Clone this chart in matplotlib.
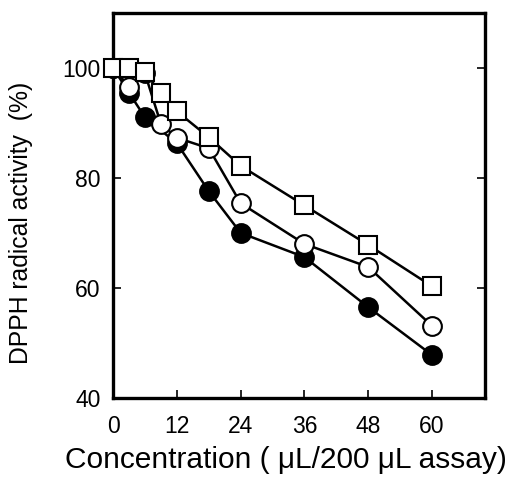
import matplotlib
matplotlib.use('Agg')
import matplotlib.pyplot as plt

plt.rcParams['font.family'] = ['Liberation Sans', 'DejaVu Sans']

# Data
conc_filled = [0, 3, 6, 12, 18, 24, 36, 48, 60]
act_filled = [100, 95.5, 91.0, 86.3, 77.6, 70.0, 65.6, 56.5, 47.8]

conc_open = [0, 3, 6, 9, 12, 18, 24, 36, 48, 60]
act_open = [100, 96.6, 99.0, 89.8, 87.3, 85.4, 75.4, 68.0, 63.8, 53.1]

conc_square = [0, 3, 6, 9, 12, 18, 24, 36, 48, 60]
act_square = [100, 100, 99.2, 95.4, 92.1, 87.4, 82.2, 75.0, 67.8, 60.3]

xticks = [0, 12, 24, 36, 48, 60]
yticks = [40, 60, 80, 100]

fig = plt.figure(figsize=(5.14, 4.8), dpi=100)
ax = fig.add_axes([0.22, 0.171, 0.724, 0.802])

ax.plot(conc_filled, act_filled, '-o', color='black', lw=1.8,
        ms=13.5, mfc='black', mec='black', mew=1.5, zorder=3, clip_on=False)
ax.plot(conc_open, act_open, '-o', color='black', lw=1.8,
        ms=13.5, mfc='white', mec='black', mew=1.5, zorder=4, clip_on=False)
ax.plot(conc_square, act_square, '-s', color='black', lw=1.8,
        ms=12.5, mfc='white', mec='black', mew=1.5, zorder=5, clip_on=False)

ax.set_xlim(0, 70)
ax.set_ylim(40, 110)
ax.set_xticks(xticks)
ax.set_yticks(yticks)
ax.tick_params(direction='in', length=6, width=1.2, labelsize=16.5)
ax.tick_params(axis='x', pad=12)
ax.tick_params(axis='y', pad=9, right=True)
for s in ax.spines.values():
    s.set_linewidth(2.4)

ax.set_xlabel('Concentration ( \u03bcL/200 \u03bcL assay)', fontsize=21.5)
ax.xaxis.set_label_coords(0.465, -0.125)
ax.set_ylabel('DPPH radical activity  (%)', fontsize=17.8)
ax.yaxis.set_label_coords(-0.215, 0.454)

fig.savefig('out.png', dpi=100)
